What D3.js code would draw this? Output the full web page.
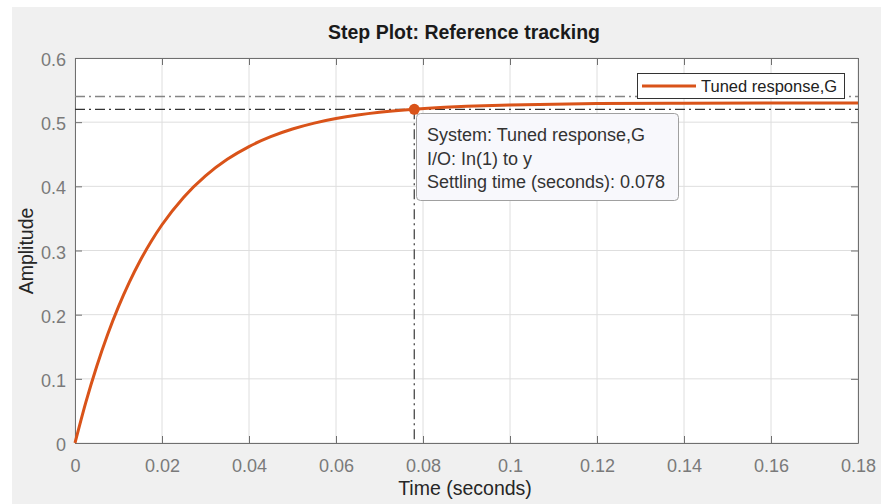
<!DOCTYPE html>
<html>
<head>
<meta charset="utf-8">
<script src="https://cdn.jsdelivr.net/npm/d3@7"></script>
<style>
    body { margin: 0; background: #fff; }
    svg { display: block; font-family: "Liberation Sans", Arial, Helvetica, sans-serif; }
</style>
</head>
<body>
<svg id="chart" width="881" height="504"></svg>
<script>
// step response
const timeValues = [0, 0.0025, 0.005, 0.0075, 0.01, 0.0125, 0.015, 0.0175, 0.02, 0.025, 0.03, 0.035,
    0.04, 0.045, 0.05, 0.055, 0.06, 0.065, 0.07, 0.078, 0.085, 0.09, 0.1, 0.11, 0.12, 0.14, 0.16, 0.18];
const amplitudeValues = [0, 0.0637, 0.1197, 0.1691, 0.2125, 0.2507, 0.2844, 0.314, 0.3401, 0.3831, 0.4163, 0.4421,
    0.462, 0.4774, 0.4893, 0.4985, 0.5056, 0.5111, 0.5154, 0.5203, 0.5232, 0.5247, 0.5268, 0.5281, 0.5289, 0.5296, 0.5299, 0.53];

const xTicks = [0, 0.02, 0.04, 0.06, 0.08, 0.1, 0.12, 0.14, 0.16, 0.18];
const xTickLabels = ["0", "0.02", "0.04", "0.06", "0.08", "0.1", "0.12", "0.14", "0.16", "0.18"];
const yTicks = [0, 0.1, 0.2, 0.3, 0.4, 0.5, 0.6];
const yTickLabels = ["0", "0.1", "0.2", "0.3", "0.4", "0.5", "0.6"];

const settlingTime = 0.078;
const settlingValue = 0.52;
const bandUpper = 0.54;
const bandLower = 0.52;

const seriesName = "Tuned response,G";
const tipLines = ["System: Tuned response,G", "I/O: In(1) to y", "Settling time (seconds): 0.078"];

const orange = "#d95319";
const axisColor = "#6f6f6f";

const svg = d3.select("#chart");

// figure background
svg.append("rect").attr("x", 12).attr("y", 7).attr("width", 869).attr("height", 497).attr("fill", "#f0f0f0");

const plotLeft = 75, plotRight = 858, plotTop = 58, plotBottom = 443;
const x = d3.scaleLinear().domain([0, 0.18]).range([plotLeft, plotRight]);
const y = d3.scaleLinear().domain([0, 0.6]).range([plotBottom, plotTop]);

svg.append("rect").attr("x", plotLeft).attr("y", plotTop)
    .attr("width", plotRight - plotLeft).attr("height", plotBottom - plotTop).attr("fill", "#fff");

// grid
const grid = svg.append("g").attr("stroke", "#dedede").attr("stroke-width", 1);
xTicks.forEach(t => {
    grid.append("line").attr("x1", x(t)).attr("x2", x(t)).attr("y1", plotTop).attr("y2", plotBottom);
});
yTicks.forEach(t => {
    grid.append("line").attr("x1", plotLeft).attr("x2", plotRight).attr("y1", y(t)).attr("y2", y(t));
});

// axes (ticks point inward on all four sides)
function styleAxis(g) {
    g.select(".domain").attr("stroke", axisColor);
    g.selectAll(".tick line").attr("stroke", axisColor);
    g.selectAll(".tick text").attr("fill", "#7a7a7a").attr("font-size", "18px");
}

svg.append("g").attr("transform", `translate(0,${plotBottom})`)
    .call(d3.axisBottom(x).tickValues(xTicks).tickSize(-7).tickSizeOuter(0).tickPadding(16)
        .tickFormat((d, i) => xTickLabels[i]))
    .call(g => g.attr("font-family", null))
    .call(styleAxis);

svg.append("g").attr("transform", `translate(${plotLeft},0)`)
    .call(d3.axisLeft(y).tickValues(yTicks).tickSize(-7).tickSizeOuter(0).tickPadding(9)
        .tickFormat((d, i) => yTickLabels[i]))
    .call(g => g.attr("font-family", null))
    .call(g => g.selectAll(".tick text").attr("dy", "0.42em"))
    .call(styleAxis);

svg.append("g").attr("transform", `translate(0,${plotTop})`)
    .call(d3.axisTop(x).tickValues(xTicks).tickSize(-7).tickSizeOuter(0).tickFormat(""))
    .call(styleAxis);

svg.append("g").attr("transform", `translate(${plotRight},0)`)
    .call(d3.axisRight(y).tickValues(yTicks).tickSize(-7).tickSizeOuter(0).tickFormat(""))
    .call(styleAxis);

// settling band and marker line
const dash = "10,4,2,4";
svg.append("line").attr("x1", plotLeft).attr("x2", plotRight).attr("y1", y(bandUpper)).attr("y2", y(bandUpper))
    .attr("stroke", "#858585").attr("stroke-width", 1.6).attr("stroke-dasharray", dash);
svg.append("line").attr("x1", plotLeft).attr("x2", plotRight).attr("y1", y(bandLower)).attr("y2", y(bandLower))
    .attr("stroke", "#333").attr("stroke-width", 1.4).attr("stroke-dasharray", dash);
svg.append("line").attr("x1", x(settlingTime)).attr("x2", x(settlingTime)).attr("y1", y(settlingValue)).attr("y2", y(0))
    .attr("stroke", "#555").attr("stroke-width", 1.4).attr("stroke-dasharray", dash);

// response curve
const points = timeValues.map((t, i) => [t, amplitudeValues[i]]);
const line = d3.line().x(d => x(d[0])).y(d => y(d[1])).curve(d3.curveMonotoneX);
svg.append("path").datum(points).attr("d", line)
    .attr("fill", "none").attr("stroke", orange).attr("stroke-width", 3);

svg.append("circle").attr("cx", x(settlingTime)).attr("cy", y(settlingValue)).attr("r", 5.5).attr("fill", orange);

// data tip
const tip = svg.append("g");
tip.append("rect").attr("x", 416.5).attr("y", 113.5).attr("width", 262).attr("height", 87).attr("rx", 4)
    .attr("fill", "#f8f8fc").attr("stroke", "#a0a0a0");
tipLines.forEach((s, i) => {
    tip.append("text").attr("x", 427).attr("y", 141 + i * 23.5).attr("font-size", "18px").attr("fill", "#333").text(s);
});

// legend
const legend = svg.append("g");
legend.append("rect").attr("x", 637.5).attr("y", 73.5).attr("width", 207).attr("height", 25)
    .attr("fill", "#fff").attr("stroke", "#333");
legend.append("line").attr("x1", 642).attr("x2", 696).attr("y1", 86).attr("y2", 86)
    .attr("stroke", orange).attr("stroke-width", 3);
legend.append("text").attr("x", 701).attr("y", 91.5).attr("font-size", "16.5px").attr("fill", "#222").text(seriesName);

// titles
svg.append("text").attr("x", 464).attr("y", 39).attr("text-anchor", "middle")
    .attr("font-size", "19.5px").attr("font-weight", "bold").attr("fill", "#1a1a1a").text("Step Plot: Reference tracking");
svg.append("text").attr("x", 465).attr("y", 495).attr("text-anchor", "middle")
    .attr("font-size", "19.5px").attr("fill", "#262626").text("Time (seconds)");
svg.append("text").attr("transform", "translate(33,251) rotate(-90)").attr("text-anchor", "middle")
    .attr("font-size", "19.5px").attr("fill", "#262626").text("Amplitude");
</script>
</body>
</html>
